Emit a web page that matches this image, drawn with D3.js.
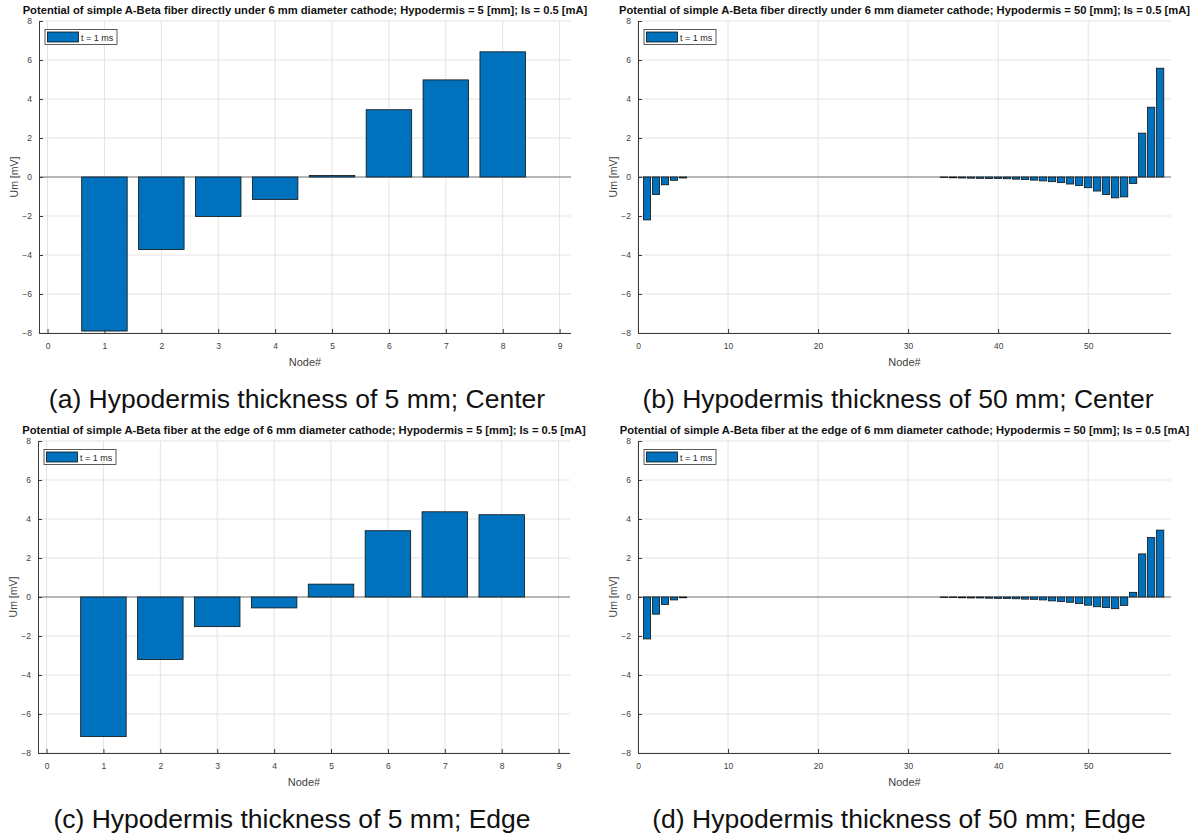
<!DOCTYPE html>
<html>
<head>
<meta charset="utf-8">
<script src="https://cdn.jsdelivr.net/npm/d3@7"></script>
<style>
  html, body { margin: 0; padding: 0; background: #fff; }
  svg { display: block; font-family: "Liberation Sans", Arial, Helvetica, sans-serif; }
</style>
</head>
<body>
<svg id="fig" width="1196" height="835"></svg>
<script>
// Membrane potential per node of an A-Beta fiber, at t = 1 ms
const nodesShort = [1, 2, 3, 4, 5, 6, 7, 8];
const nodesLong = d3.range(1, 59);

// Hypodermis = 5 mm
const umCenter5 = [-7.90, -3.72, -2.03, -1.15, 0.08, 3.45, 4.98, 6.42];
const umEdge5   = [-7.16, -3.21, -1.52, -0.56, 0.66, 3.40, 4.37, 4.22];

// Hypodermis = 50 mm (nodes 1..58)
const umCenter50 = [
  -2.20, -0.90, -0.40, -0.17, -0.05,
   0, 0, 0, 0, 0, 0, 0, 0, 0, 0, 0, 0, 0, 0, 0, 0, 0, 0, 0, 0, 0, 0, 0, 0, 0, 0, 0, 0,
  -0.03, -0.04, -0.05, -0.06, -0.07, -0.08, -0.08, -0.09, -0.11, -0.13,
  -0.16, -0.20, -0.24, -0.29, -0.36, -0.43, -0.55, -0.72, -0.90, -1.07,
  -1.02, -0.33, 2.25, 3.58, 5.58
];
const umEdge50 = [
  -2.15, -0.88, -0.38, -0.15, -0.04,
   0, 0, 0, 0, 0, 0, 0, 0, 0, 0, 0, 0, 0, 0, 0, 0, 0, 0, 0, 0, 0, 0, 0, 0, 0, 0, 0, 0,
  -0.03, -0.03, -0.04, -0.05, -0.05, -0.06, -0.07, -0.08, -0.09, -0.11,
  -0.12, -0.15, -0.20, -0.23, -0.27, -0.34, -0.42, -0.50, -0.54, -0.60,
  -0.43, 0.24, 2.21, 3.05, 3.43
];

const yTicks = [-8, -6, -4, -2, 0, 2, 4, 6, 8];
const xTicksShort = [0, 1, 2, 3, 4, 5, 6, 7, 8, 9];
const xTicksLong = [0, 10, 20, 30, 40, 50];

const titles = [
  "Potential of simple A-Beta fiber directly under 6 mm diameter cathode; Hypodermis = 5 [mm]; Is = 0.5 [mA]",
  "Potential of simple A-Beta fiber directly under 6 mm diameter cathode; Hypodermis = 50 [mm]; Is = 0.5 [mA]",
  "Potential of simple A-Beta fiber at the edge of 6 mm diameter cathode; Hypodermis = 5 [mm]; Is = 0.5 [mA]",
  "Potential of simple A-Beta fiber at the edge of 6 mm diameter cathode; Hypodermis = 50 [mm]; Is = 0.5 [mA]"
];
const captions = [
  "(a) Hypodermis thickness of 5 mm; Center",
  "(b) Hypodermis thickness of 50 mm; Center",
  "(c) Hypodermis thickness of 5 mm; Edge",
  "(d) Hypodermis thickness of 50 mm; Edge"
];
const legendLabel = "t = 1 ms";
const xLabel = "Node#";
const yLabel = "Um [mV]";

const BAR_FILL = "#0072BD";
const TEXT = "#404040";
const AXIS = "#3a3a3a";
const GRID = "#e3e3e3";

const svg = d3.select("#fig");

function drawPanel(o) {
  const g = svg.append("g");
  const x = d3.scaleLinear().domain(o.xDomain).range([o.left, o.right]);
  const y = d3.scaleLinear().domain([-8, 8]).range([o.bottom, o.top]);
  const barW = x(0.8) - x(0);

  // grid
  g.append("g").selectAll("line").data(o.xTicks).join("line")
    .attr("x1", d => x(d)).attr("x2", d => x(d))
    .attr("y1", o.top).attr("y2", o.bottom)
    .attr("stroke", GRID).attr("stroke-width", 1);
  g.append("g").selectAll("line").data(yTicks).join("line")
    .attr("x1", o.left).attr("x2", o.right)
    .attr("y1", d => y(d)).attr("y2", d => y(d))
    .attr("stroke", GRID).attr("stroke-width", 1);

  // baseline at zero
  g.append("line")
    .attr("x1", o.left).attr("x2", o.right)
    .attr("y1", y(0)).attr("y2", y(0))
    .attr("stroke", "#7a7a7a").attr("stroke-width", 1);

  // bars
  g.append("g").selectAll("rect").data(o.nodes.map((n, i) => ({ n, v: o.values[i] }))).join("rect")
    .attr("x", d => x(d.n) - barW / 2)
    .attr("width", barW)
    .attr("y", d => y(Math.max(0, d.v)))
    .attr("height", d => Math.abs(y(d.v) - y(0)))
    .attr("fill", BAR_FILL)
    .attr("stroke", "#111")
    .attr("stroke-width", 0.8);

  // axes (ticks pointing inward)
  const xAxis = d3.axisBottom(x).tickValues(o.xTicks).tickSize(-4).tickPadding(10).tickFormat(d3.format("d"));
  const gx = g.append("g").attr("transform", `translate(0,${o.bottom})`).call(xAxis);
  const yAxis = d3.axisLeft(y).tickValues(yTicks).tickSize(-4).tickPadding(7).tickFormat(d3.format("d"));
  const gy = g.append("g").attr("transform", `translate(${o.left},0)`).call(yAxis);
  [gx, gy].forEach(a => {
    a.select(".domain").attr("stroke", AXIS).attr("stroke-width", 1)
      .attr("d", a === gx ? `M${o.left},0.5H${o.right}` : `M0.5,${o.bottom}V${o.top}`);
    a.selectAll(".tick line").attr("stroke", AXIS);
    a.selectAll(".tick text").attr("fill", TEXT).style("font-size", "8.5px")
      .style("font-family", "'Liberation Sans', Arial, sans-serif");
  });

  // axis labels
  g.append("text")
    .attr("x", (o.left + o.right) / 2).attr("y", o.bottom + 33)
    .attr("text-anchor", "middle").attr("fill", TEXT).style("font-size", "11px")
    .text(xLabel);
  g.append("text")
    .attr("transform", `translate(${o.left - 21},${(o.top + o.bottom) / 2}) rotate(-90)`)
    .attr("text-anchor", "middle").attr("fill", TEXT).style("font-size", "10.5px")
    .text(yLabel);

  // title
  g.append("text")
    .attr("x", (o.left + o.right) / 2).attr("y", o.top - 7)
    .attr("text-anchor", "middle").attr("fill", "#111")
    .style("font-size", "11.2px").style("font-weight", "bold")
    .text(o.title);

  // legend
  const lg = g.append("g").attr("transform", `translate(${o.left + 6},${o.top + 8.5})`);
  lg.append("rect").attr("x", 0).attr("y", 0).attr("width", 72).attr("height", 15)
    .attr("fill", "#fff").attr("stroke", "#333").attr("stroke-width", 0.8);
  lg.append("rect").attr("x", 2.5).attr("y", 2.5).attr("width", 31).attr("height", 10)
    .attr("fill", BAR_FILL).attr("stroke", "#111").attr("stroke-width", 0.8);
  lg.append("text").attr("x", 36).attr("y", 11).attr("fill", "#222")
    .style("font-size", "9px").text(legendLabel);

  // caption under panel
  g.append("text")
    .attr("x", o.captionX).attr("y", o.bottom + 75)
    .attr("text-anchor", "middle").attr("fill", "#111")
    .style("font-size", "26.5px")
    .text(o.caption);
}

const rowTop = [21, 441];
const rowBottom = [333, 753];

drawPanel({ left: 39, right: 571, top: rowTop[0], bottom: rowBottom[0], xDomain: [-0.15, 9.2],
  xTicks: xTicksShort, nodes: nodesShort, values: umCenter5, title: titles[0],
  caption: captions[0], captionX: 297 });
drawPanel({ left: 638, right: 1171, top: rowTop[0], bottom: rowBottom[0], xDomain: [0, 59.2],
  xTicks: xTicksLong, nodes: nodesLong, values: umCenter50, title: titles[1],
  caption: captions[1], captionX: 898 });
drawPanel({ left: 38, right: 570, top: rowTop[1], bottom: rowBottom[1], xDomain: [-0.15, 9.2],
  xTicks: xTicksShort, nodes: nodesShort, values: umEdge5, title: titles[2],
  caption: captions[2], captionX: 292 });
drawPanel({ left: 638, right: 1171, top: rowTop[1], bottom: rowBottom[1], xDomain: [0, 59.2],
  xTicks: xTicksLong, nodes: nodesLong, values: umEdge50, title: titles[3],
  caption: captions[3], captionX: 899 });
</script>
</body>
</html>
